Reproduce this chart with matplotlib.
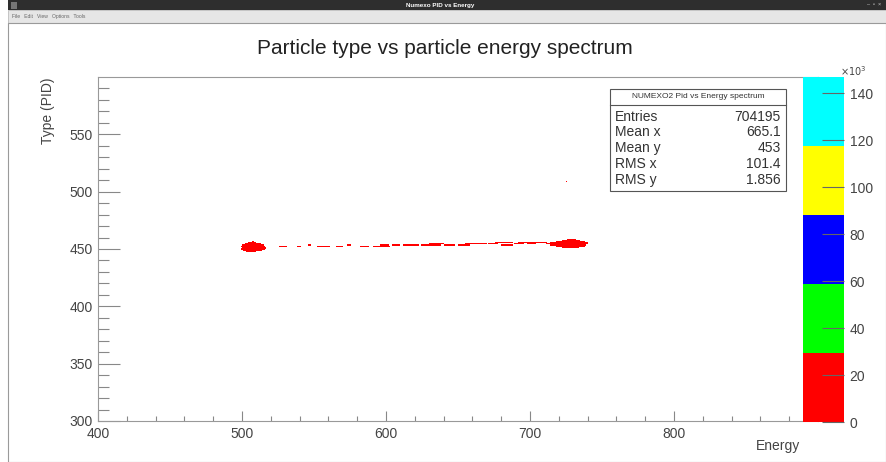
import numpy as np
import matplotlib
matplotlib.use("Agg")
import matplotlib.pyplot as plt
from matplotlib.colors import ListedColormap, BoundaryNorm
from matplotlib.patches import Rectangle
from matplotlib.ticker import FuncFormatter

plt.rcParams['font.family'] = ['Liberation Sans', 'DejaVu Sans']

# histogram binning (Energy x PID)
e_edges = np.arange(400, 901, 1)
pid_edges = np.arange(300, 601, 1)

# filled bins: energy range, PID row, counts per bin
left_blob_pid = [447, 448, 449, 450, 451, 452, 453, 454, 455, 456]
left_blob_elo = [503, 501, 499, 499, 500, 499, 500, 502, 504, 507]
left_blob_ehi = [510, 514, 516, 517, 517, 516, 515, 513, 510, 508]

right_blob_pid = [451, 452, 453, 454, 455, 456, 457, 458]
right_blob_elo = [722, 718, 714, 712, 714, 718, 722, 726]
right_blob_ehi = [734, 738, 739, 740, 740, 738, 735, 732]

dash_elo = [526, 538, 546, 552, 565, 573, 582, 591, 604, 612, 624, 640, 650, 660, 671, 680, 689, 698, 705, 711]
dash_ehi = [531, 541, 548, 561, 570, 576, 588, 603, 610, 623, 638, 648, 658, 670, 678, 688, 696, 704, 710, 716]
dash_pid = [452, 452, 453, 452, 452, 453, 452, 452, 453, 453, 453, 453, 453, 454, 454, 453, 454, 454, 455, 454]

dash2_elo = [596, 630, 655, 676, 692, 700]
dash2_ehi = [602, 640, 668, 688, 700, 712]
dash2_pid = [453, 454, 454, 455, 455, 455]

stray_e = [725]
stray_pid = [508]

blob_count = 18000
dash_count = 4000
stray_count = 500

# palette levels (x10^3)
levels = [0, 29400, 58800, 88200, 117600, 147000]
level_colors = ['#ff0000', '#00ff00', '#0000ff', '#ffff00', '#00ffff']

stats_names = ['Entries', 'Mean x', 'Mean y', 'RMS x', 'RMS y']
stats_values = ['704195', '665.1', '453', '101.4', '1.856']

ee, pp, ww = [], [], []
def add_rows(elo, ehi, pid, count):
    for a, b, p in zip(elo, ehi, pid):
        for e in range(a, b):
            ee.append(e + 0.5)
            pp.append(p + 0.5)
            ww.append(count)

add_rows(left_blob_elo, left_blob_ehi, left_blob_pid, blob_count)
add_rows(right_blob_elo, right_blob_ehi, right_blob_pid, blob_count)
add_rows(dash_elo, dash_ehi, dash_pid, dash_count)
add_rows(dash2_elo, dash2_ehi, dash2_pid, dash_count)
add_rows(stray_e, [e + 1 for e in stray_e], stray_pid, stray_count)

H, _, _ = np.histogram2d(ee, pp, bins=[e_edges, pid_edges], weights=ww)
H = np.ma.masked_equal(H.T, 0)

W, Hh = 887, 462
fig = plt.figure(figsize=(W / 100, Hh / 100), dpi=100)

def fx(px):
    return px / W

def fy(py):
    return 1 - py / Hh

# window chrome
fig.add_artist(Rectangle((fx(8), fy(10)), fx(879), 10 / Hh, transform=fig.transFigure,
                         facecolor='#2e2e2e', edgecolor='none'))
fig.add_artist(Rectangle((fx(8), fy(23)), fx(879), 13 / Hh, transform=fig.transFigure,
                         facecolor='#e6e6e6', edgecolor='#bdbdbd', lw=0.6))
fig.add_artist(Rectangle((fx(8), 0), fx(878), fy(23), transform=fig.transFigure,
                         facecolor='none', edgecolor='#9a9a9a', lw=0.8))
fig.add_artist(Rectangle((fx(11), fy(9)), fx(6), 7 / Hh, transform=fig.transFigure,
                         facecolor='#777777', edgecolor='none'))
fig.text(fx(440), fy(5), 'Numexo PID vs Energy', color='white', fontsize=4.5,
         fontweight='bold', ha='center', va='center')
fig.text(fx(874), fy(5), '–  ▫  ×', color='#cccccc', fontsize=4, ha='center', va='center')
fig.text(fx(12), fy(16.5), 'File   Edit   View   Options   Tools', color='#666666',
         fontsize=3.6, ha='left', va='center')

ax = fig.add_axes([fx(98), fy(421), fx(818 - 98), (421 - 77) / Hh])
cmap = ListedColormap(level_colors)
norm = BoundaryNorm(levels, cmap.N)
mesh = ax.pcolormesh(e_edges, pid_edges, H, cmap=cmap, norm=norm, shading='flat')

ax.set_xlim(400, 900)
ax.set_ylim(300, 600)
ax.set_xticks([400, 500, 600, 700, 800])
ax.set_xticks(np.arange(420, 900, 20), minor=True)
ax.set_yticks([300, 350, 400, 450, 500, 550])
ax.set_yticks(np.arange(310, 600, 10), minor=True)
ax.tick_params(axis='both', which='both', direction='in', color='#888888',
               labelcolor='#444444', labelsize=10, top=False, right=False)
ax.tick_params(axis='y', which='major', length=16, width=0.8, pad=4)
ax.tick_params(axis='y', which='minor', length=8, width=0.8)
ax.tick_params(axis='x', which='major', length=7, width=0.8, pad=4)
ax.tick_params(axis='x', which='minor', length=3.5, width=0.8)
for s in ax.spines.values():
    s.set_color('#999999')
    s.set_linewidth(0.8)

fig.text(fx(48), fy(78), 'Type (PID)', rotation=90, ha='center', va='top',
         fontsize=10, color='#444444')
fig.text(fx(778), fy(446), 'Energy', ha='center', va='center', fontsize=10, color='#444444')
fig.text(fx(445), fy(48), 'Particle type vs particle energy spectrum', ha='center',
         va='center', fontsize=15, color='#222222')

# stats box
bx0, bx1, by0, by1, bsep = 610, 786, 89, 191, 105
fig.add_artist(Rectangle((fx(bx0), fy(by1)), fx(bx1 - bx0), (by1 - by0) / Hh,
                         transform=fig.transFigure, facecolor='white',
                         edgecolor='#555555', lw=0.8, zorder=5))
fig.add_artist(plt.Line2D([fx(bx0), fx(bx1)], [fy(bsep), fy(bsep)],
                          transform=fig.transFigure, color='#555555', lw=0.8, zorder=6))
fig.text(fx((bx0 + bx1) / 2), fy(97), 'NUMEXO2 Pid vs Energy spectrum', ha='center',
         va='center', fontsize=6, color='#333333', zorder=7)
row_y = [117, 132, 148, 164, 180]
for name, val, ry in zip(stats_names, stats_values, row_y):
    fig.text(fx(615), fy(ry), name, ha='left', va='center', fontsize=10,
             color='#333333', zorder=7)
    fig.text(fx(781), fy(ry), val, ha='right', va='center', fontsize=10,
             color='#333333', zorder=7)

# palette
cax = fig.add_axes([fx(803), fy(422), fx(844 - 803), (422 - 77) / Hh])
cb = fig.colorbar(mesh, cax=cax, ticks=np.arange(0, 140001, 20000))
cb.outline.set_visible(False)
cb.ax.yaxis.set_major_formatter(FuncFormatter(lambda v, p: f'{v / 1000:g}'))
cb.ax.tick_params(direction='in', length=16, width=0.8, color='#666666',
                  labelcolor='#444444', labelsize=10, pad=4)
cb.ax.minorticks_off()
fig.text(fx(840), fy(71), r'$\times10^{3}$', ha='left', va='center', fontsize=7,
         color='#444444')

fig.savefig('out.png', dpi=100, facecolor='white')
